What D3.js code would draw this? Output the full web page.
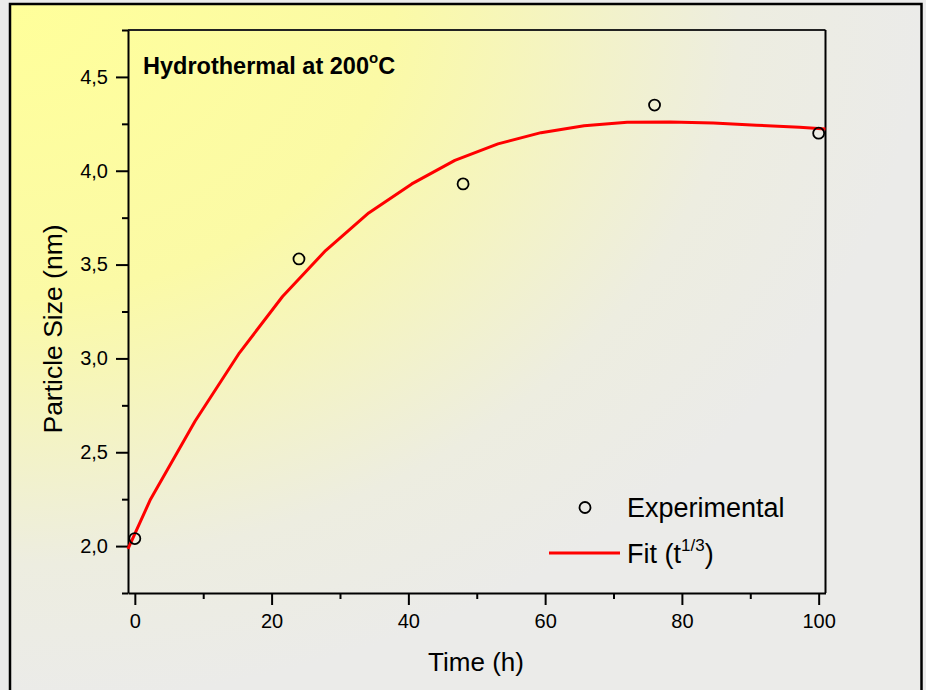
<!DOCTYPE html>
<html>
<head>
<meta charset="utf-8">
<script src="https://cdn.jsdelivr.net/npm/d3@7"></script>
<style>
  html, body { margin: 0; padding: 0; background: #ebebeb; }
  svg { display: block; font-family: "Liberation Sans", Arial, sans-serif; }
</style>
</head>
<body>
<svg id="chart" width="926" height="690"></svg>
<script>
// Measured particle size over hydrothermal treatment time
const expTime = [0, 24, 48, 76, 100];
const expSize = [2.04, 3.53, 3.93, 4.35, 4.20];

// Fitted growth curve (t^1/3 model), sampled points
const fitTime = [-1, 2.3, 8.8, 15.3, 21.6, 27.9, 34.2, 40.5, 46.8, 53.1, 59.4, 65.7, 72.0, 78.3, 84.6, 90.9, 97.2, 101];
const fitSize = [1.985, 2.25, 2.665, 3.03, 3.33, 3.575, 3.775, 3.93, 4.055, 4.143, 4.203, 4.24, 4.258, 4.26, 4.255, 4.243, 4.232, 4.223];

const xMajorTicks = [0, 20, 40, 60, 80, 100];
const xMinorTicks = [10, 30, 50, 70, 90];
const yMajorTicks = [2.0, 2.5, 3.0, 3.5, 4.0, 4.5];
const yMinorTicks = [1.75, 2.25, 2.75, 3.25, 3.75, 4.25, 4.75];

const svg = d3.select("#chart");

// Background panel: yellow in the top-left corner fading to grey
const defs = svg.append("defs");
const grad = defs.append("radialGradient")
  .attr("id", "panelGrad")
  .attr("gradientUnits", "objectBoundingBox")
  .attr("cx", 0).attr("cy", 0).attr("fx", 0).attr("fy", 0).attr("r", 1);
grad.append("stop").attr("offset", "0").attr("stop-color", "#ffff9a");
grad.append("stop").attr("offset", "0.42").attr("stop-color", "#fbfaa6");
grad.append("stop").attr("offset", "0.8").attr("stop-color", "#edede0");
grad.append("stop").attr("offset", "1").attr("stop-color", "#ebebe9");

svg.append("rect").attr("x", 0).attr("y", 0).attr("width", 926).attr("height", 690).attr("fill", "#ebebeb");
svg.append("rect")
  .attr("x", 10).attr("y", 4).attr("width", 911.5).attr("height", 700)
  .attr("fill", "url(#panelGrad)")
  .attr("stroke", "#000").attr("stroke-width", 2.5);

const plot = { left: 128, right: 825.5, top: 30, bottom: 593 };

const x = d3.scaleLinear().domain([-1, 101]).range([plot.left, plot.right]);
const y = d3.scaleLinear().domain([1.75, 4.75]).range([plot.bottom, plot.top]);

const commaFmt = d => d3.format(".1f")(d).replace(".", ",");

// Frame lines on top and right
svg.append("line")
  .attr("x1", plot.left).attr("x2", plot.right)
  .attr("y1", plot.top).attr("y2", plot.top)
  .attr("stroke", "#222").attr("stroke-width", 2);
svg.append("line")
  .attr("x1", plot.right).attr("x2", plot.right)
  .attr("y1", plot.top).attr("y2", plot.bottom)
  .attr("stroke", "#000").attr("stroke-width", 2);

// Bottom axis
svg.append("g")
  .attr("transform", `translate(0,${plot.bottom})`)
  .call(d3.axisBottom(x).tickValues(xMajorTicks).tickSize(12).tickSizeOuter(0).tickPadding(9).tickFormat(d3.format("d")));
svg.append("g")
  .attr("transform", `translate(0,${plot.bottom})`)
  .call(d3.axisBottom(x).tickValues(xMinorTicks).tickSize(6).tickSizeOuter(0).tickFormat(""))
  .call(g => g.select(".domain").remove());

// Left axis
svg.append("g")
  .attr("transform", `translate(${plot.left},0)`)
  .call(d3.axisLeft(y).tickValues(yMajorTicks).tickSize(12).tickSizeOuter(0).tickPadding(8).tickFormat(commaFmt));
svg.append("g")
  .attr("transform", `translate(${plot.left},0)`)
  .call(d3.axisLeft(y).tickValues(yMinorTicks).tickSize(6).tickSizeOuter(0).tickFormat(""))
  .call(g => g.select(".domain").remove());

svg.selectAll(".domain").attr("stroke", "#000").attr("stroke-width", 2);
svg.selectAll(".tick line").attr("stroke", "#000").attr("stroke-width", 2);
svg.selectAll(".tick text").attr("font-size", 20).attr("fill", "#000")
  .attr("font-family", "'Liberation Sans', Arial, sans-serif");

// Axis titles
svg.append("text")
  .attr("x", 476).attr("y", 671)
  .attr("text-anchor", "middle")
  .attr("font-size", 26)
  .text("Time (h)");
svg.append("text")
  .attr("transform", "translate(62,329) rotate(-90)")
  .attr("text-anchor", "middle")
  .attr("font-size", 26.5)
  .text("Particle Size (nm)");

// Fit curve
const fitData = fitTime.map((t, i) => [t, fitSize[i]]);
svg.append("path")
  .datum(fitData)
  .attr("fill", "none")
  .attr("stroke", "#ff0000")
  .attr("stroke-width", 3)
  .attr("stroke-linejoin", "round")
  .attr("d", d3.line().x(d => x(d[0])).y(d => y(d[1])));

// Experimental points
svg.append("g")
  .selectAll("circle")
  .data(expTime.map((t, i) => [t, expSize[i]]))
  .join("circle")
  .attr("cx", d => x(d[0]))
  .attr("cy", d => y(d[1]))
  .attr("r", 5.5)
  .attr("fill", "none")
  .attr("stroke", "#000")
  .attr("stroke-width", 1.8);

// Annotation
const title = svg.append("text")
  .attr("x", 143).attr("y", 74)
  .attr("font-size", 23.5)
  .attr("font-weight", "bold");
title.append("tspan").text("Hydrothermal at 200");
title.append("tspan").attr("font-size", 15).attr("dy", -11).text("o");
title.append("tspan").attr("dy", 11).text("C");

// Legend
svg.append("circle")
  .attr("cx", 585).attr("cy", 507.5).attr("r", 5.5)
  .attr("fill", "none").attr("stroke", "#000").attr("stroke-width", 1.8);
svg.append("text")
  .attr("x", 627).attr("y", 517)
  .attr("font-size", 27)
  .text("Experimental");
svg.append("line")
  .attr("x1", 549).attr("x2", 620)
  .attr("y1", 553).attr("y2", 553)
  .attr("stroke", "#ff0000").attr("stroke-width", 3);
const fitLabel = svg.append("text")
  .attr("x", 627).attr("y", 563)
  .attr("font-size", 27);
fitLabel.append("tspan").text("Fit (t");
fitLabel.append("tspan").attr("font-size", 17).attr("dy", -12).text("1/3");
fitLabel.append("tspan").attr("dy", 12).text(")");
</script>
</body>
</html>
